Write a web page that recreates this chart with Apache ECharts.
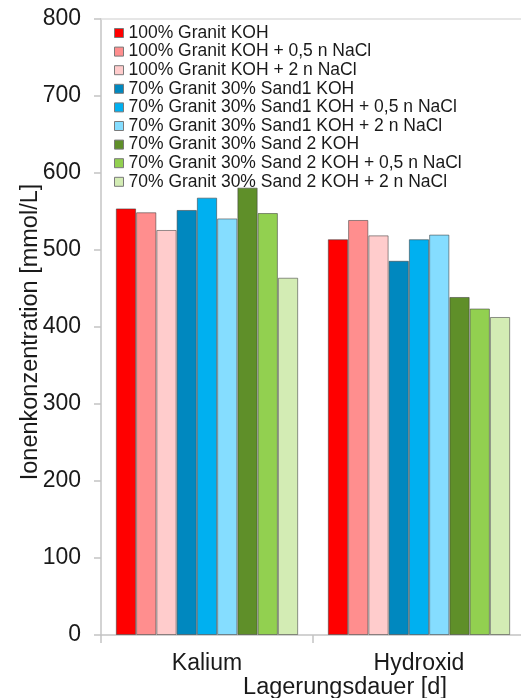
<!DOCTYPE html>
<html>
<head>
<meta charset="utf-8">
<script src="https://cdn.jsdelivr.net/npm/echarts@6/dist/echarts.min.js"></script>
<style>
html,body{margin:0;padding:0;background:#fff;}
#chart{width:521px;height:698px;}
</style>
</head>
<body>
<div id="chart"></div>
<script>
var categories = ['Kalium', 'Hydroxid'];
var seriesNames = [
  '100% Granit KOH',
  '100% Granit KOH + 0,5 n NaCl',
  '100% Granit KOH + 2 n NaCl',
  '70% Granit 30% Sand1 KOH',
  '70% Granit 30% Sand1 KOH + 0,5 n NaCl',
  '70% Granit 30% Sand1 KOH + 2 n NaCl',
  '70% Granit 30% Sand 2 KOH',
  '70% Granit 30% Sand 2 KOH + 0,5 n NaCl',
  '70% Granit 30% Sand 2 KOH + 2 n NaCl'
];
var s1 = [554, 514];
var s2 = [549, 539];
var s3 = [526, 519];
var s4 = [552, 486];
var s5 = [568, 514];
var s6 = [541, 520];
var s7 = [581, 439];
var s8 = [548, 424];
var s9 = [464, 413];
var seriesValues = [s1, s2, s3, s4, s5, s6, s7, s8, s9];
var colors = ['#FF0000', '#FF8E8E', '#FFCCCC', '#0088BF', '#00B0F0', '#85DDFF', '#5F8F29', '#92D050', '#D3ECB4'];
var yTicks = [0, 100, 200, 300, 400, 500, 600, 700, 800];

var font = 'Liberation Sans, Arial, sans-serif';
var chart = echarts.init(document.getElementById('chart'), null, {renderer: 'canvas'});
var series = seriesNames.map(function (n, i) {
  return {
    name: n,
    type: 'bar',
    data: seriesValues[i],
    barGap: '0%',
    barCategoryGap: '14%',
    itemStyle: {color: colors[i], borderColor: 'rgba(60,60,60,0.55)', borderWidth: 1},
    emphasis: {disabled: true}
  };
});
chart.setOption({
  animation: false,
  textStyle: {fontFamily: font},
  grid: {left: 101, top: 19, width: 424, bottom: 63, containLabel: false, outerBoundsMode: 'none'},
  legend: {
    orient: 'vertical',
    left: 109,
    top: 19,
    itemWidth: 9,
    itemHeight: 9,
    itemGap: 0.6,
    icon: 'rect',
    itemStyle: {borderColor: '#7a7a7a', borderWidth: 1},
    textStyle: {fontFamily: font, fontSize: 17.5, color: '#1a1a1a', lineHeight: 17.5},
    data: seriesNames
  },
  xAxis: [{
    type: 'category',
    data: categories,
    position: 'bottom',
    name: 'Lagerungsdauer [d]',
    nameLocation: 'middle',
    nameGap: 41,
    nameMoveOverlap: false,
    nameTextStyle: {fontFamily: font, fontSize: 23.5, color: '#1a1a1a', padding: [0, 0, 0, 64]},
    axisLine: {lineStyle: {color: '#c4c4c4', width: 1.5}},
    axisTick: {show: true, length: 8, lineStyle: {color: '#c4c4c4', width: 1.5}},
    axisLabel: {fontFamily: font, fontSize: 23, color: '#1a1a1a', margin: 17}
  }, {
    type: 'category',
    data: categories,
    position: 'top',
    axisLine: {show: true, lineStyle: {color: '#dedede', width: 1.5}},
    axisTick: {show: false},
    axisLabel: {show: false}
  }],
  yAxis: {
    type: 'value',
    min: yTicks[0],
    max: yTicks[yTicks.length - 1],
    interval: 100,
    name: 'Ionenkonzentration [mmol/L]',
    nameLocation: 'middle',
    nameGap: 58,
    nameMoveOverlap: false,
    nameTextStyle: {fontFamily: font, fontSize: 23.5, color: '#1a1a1a', padding: [0, 10, 0, 0]},
    axisLine: {show: true, lineStyle: {color: '#c4c4c4', width: 1.5}},
    axisTick: {show: true, length: 7, lineStyle: {color: '#c4c4c4', width: 1.5}},
    splitLine: {show: false},
    axisLabel: {fontFamily: font, fontSize: 23, color: '#1a1a1a', margin: 20}
  },
  series: series
});
</script>
</body>
</html>
